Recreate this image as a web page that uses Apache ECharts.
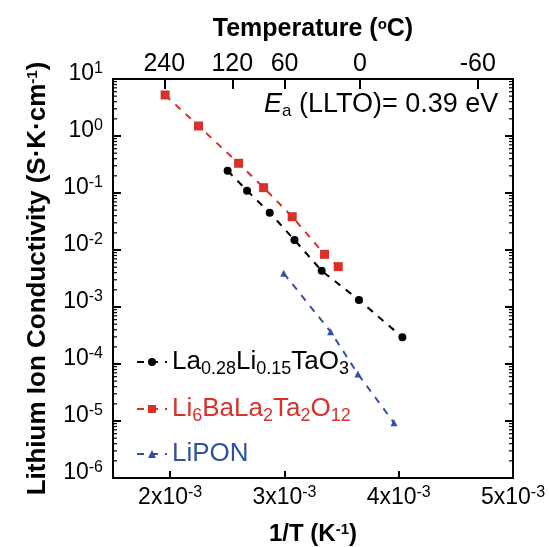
<!DOCTYPE html>
<html>
<head>
<meta charset="utf-8">
<script src="https://cdn.jsdelivr.net/npm/echarts@6/dist/echarts.min.js"></script>
<style>html,body{margin:0;padding:0;background:#fff}#c{width:549px;height:547px}</style>
</head>
<body>
<div id="c"></div>
<script>
// ---- data ----
var invT_LLTO  = [2.503e-3, 2.673e-3, 2.871e-3, 3.088e-3, 3.326e-3, 3.652e-3, 4.032e-3];
var sigma_LLTO = [0.246, 0.110, 0.0451, 0.0150, 0.00431, 0.00133, 0.000294];
var invT_LBLTO  = [1.956e-3, 2.248e-3, 2.599e-3, 2.818e-3, 3.068e-3, 3.351e-3, 3.471e-3];
var sigma_LBLTO = [5.24, 1.50, 0.332, 0.124, 0.0384, 0.0084, 0.0051];
var invT_LiPON  = [2.994e-3, 3.404e-3, 3.643e-3, 3.959e-3];
var sigma_LiPON = [0.0039, 3.69e-4, 6.68e-5, 9.3e-6];
var bottomTicks = [0.002, 0.003, 0.004, 0.005];
var topTempsC = [240, 120, 60, 0, -60];
var yDecades = [1e-6, 1e-5, 1e-4, 1e-3, 1e-2, 1e-1, 1, 10];

var FONT = '"Liberation Sans", Arial, Helvetica, sans-serif';
var RED = '#d8312b', BLUE = '#2f52a3', BLACK = '#000000';
var TICK_MAJOR = '#000000', TICK_MINOR = '#000000';
var X_MIN = 0.0015, X_MAX = 0.005, Y_MIN = 1e-6, Y_MAX = 10;

function pairs(xs, ys){ return xs.map(function(x,i){ return [x, ys[i]]; }); }
var topVals = topTempsC.map(function(t){ return 1/(t+273.15); });
var yMinor = [];
for (var k = 0; k < yDecades.length - 1; k++) {
  for (var m = 2; m <= 9; m++) yMinor.push(m * yDecades[k]);
}

var chart = echarts.init(document.getElementById('c'));
var supRich = {
  a: {fontSize: 23, fontFamily: FONT, color: '#000', lineHeight: 26},
  b: {fontSize: 16, fontFamily: FONT, color: '#000', lineHeight: 12, verticalAlign: 'top'}
};
var nameRich = {s: {fontSize: 15, fontWeight: 'bold', fontFamily: FONT, color: '#000', verticalAlign: 'top', lineHeight: 10}};

var option = {
  animation: false,
  backgroundColor: '#fff',
  grid: {left: 113, right: 36, top: 79, bottom: 69, outerBoundsMode: 'none'},
  xAxis: [
    {
      type: 'value', min: X_MIN, max: X_MAX, position: 'bottom',
      splitLine: {show: false},
      axisLine: {show: true, onZero: false, lineStyle: {color: '#000', width: 2}},
      axisTick: {show: true, inside: true, length: 7, customValues: bottomTicks.slice(0, 3), lineStyle: {color: TICK_MAJOR, width: 2}},
      axisLabel: {
        customValues: bottomTicks, margin: 7,
        formatter: function(v){ return '{a|' + Math.round(v*1000) + 'x10}{b|-3}'; },
        rich: supRich
      },
      name: '1/T (K{s|-1})', nameLocation: 'middle', nameGap: 44,
      nameTextStyle: {fontSize: 24, fontWeight: 'bold', fontFamily: FONT, color: '#000', rich: nameRich}
    },
    {
      type: 'value', min: X_MIN, max: X_MAX, position: 'top',
      splitLine: {show: false},
      axisLine: {show: true, onZero: false, lineStyle: {color: '#000', width: 2}},
      axisTick: {show: true, inside: true, length: 10, customValues: topVals, lineStyle: {color: TICK_MAJOR, width: 2}},
      axisLabel: {
        customValues: topVals, margin: 2,
        fontSize: 25, fontFamily: FONT, color: '#000',
        formatter: function(v){ return String(Math.round(1/v - 273.15)); }
      },
      name: 'Temperature ({s|o}C)', nameLocation: 'middle', nameGap: 37,
      nameTextStyle: {fontSize: 25, fontWeight: 'bold', fontFamily: FONT, color: '#000', rich: nameRich}
    }
  ],
  yAxis: [
    {
      type: 'log', logBase: 10, min: Y_MIN, max: Y_MAX, position: 'left',
      splitLine: {show: false},
      axisLine: {show: true, onZero: false, lineStyle: {color: '#000', width: 2}},
      axisTick: {show: true, inside: true, length: 8, customValues: yDecades, lineStyle: {color: TICK_MAJOR, width: 2}},
      axisLabel: {
        show: true, customValues: yDecades, margin: 10, padding: [0, 0, 10, 0],
        formatter: function(v){ return '{a|10}{b|' + Math.round(Math.log10(v)) + '}'; },
        rich: supRich
      },
      name: 'Lithium Ion Conductivity (S\u00B7K\u00B7cm{s|-1})',
      nameLocation: 'middle', nameGap: 62,
      nameTextStyle: {fontSize: 26, fontWeight: 'bold', fontFamily: FONT, color: '#000', rich: nameRich}
    },
    {
      type: 'log', logBase: 10, min: Y_MIN, max: Y_MAX, position: 'right',
      splitLine: {show: false},
      axisLine: {show: true, onZero: false, lineStyle: {color: '#000', width: 2}},
      axisTick: {show: true, inside: true, length: 8, customValues: yDecades, lineStyle: {color: TICK_MAJOR, width: 2}},
      axisLabel: {show: false}
    }
  ],
  legend: [
    {
      data: ['LLTO'], left: 131, top: 344, itemWidth: 30, itemHeight: 10, itemGap: 4,
      textStyle: {color: BLACK, fontSize: 26, fontFamily: FONT,
        rich: {n: {fontSize: 26, fontFamily: FONT, color: BLACK, lineHeight: 32}, s: {fontSize: 18, fontFamily: FONT, color: BLACK, verticalAlign: 'bottom', lineHeight: 10}}},
      formatter: function(){ return '{n|La}{s|0.28}{n|Li}{s|0.15}{n|TaO}{s|3}'; }
    },
    {
      data: ['LBLTO'], left: 131, top: 391, itemWidth: 30, itemHeight: 10,
      textStyle: {color: RED, fontSize: 26, fontFamily: FONT,
        rich: {n: {fontSize: 26, fontFamily: FONT, color: RED, lineHeight: 32}, s: {fontSize: 18, fontFamily: FONT, color: RED, verticalAlign: 'bottom', lineHeight: 10}}},
      formatter: function(){ return '{n|Li}{s|6}{n|BaLa}{s|2}{n|Ta}{s|2}{n|O}{s|12}'; }
    },
    {
      data: ['LiPON'], left: 131, top: 436, itemWidth: 30, itemHeight: 10,
      textStyle: {color: BLUE, fontSize: 26, fontFamily: FONT}
    }
  ],
  series: [
    {
      name: 'LLTO', type: 'line', xAxisIndex: 0, yAxisIndex: 0,
      data: pairs(invT_LLTO, sigma_LLTO),
      symbol: 'circle', symbolSize: 8,
      itemStyle: {color: BLACK},
      lineStyle: {color: BLACK, width: 2, type: [7, 7]}
    },
    {
      name: 'LBLTO', type: 'line', xAxisIndex: 0, yAxisIndex: 0,
      data: pairs(invT_LBLTO, sigma_LBLTO),
      symbol: 'rect', symbolSize: 9,
      itemStyle: {color: RED},
      lineStyle: {color: RED, width: 2, type: [7, 7]}
    },
    {
      name: 'LiPON', type: 'line', xAxisIndex: 0, yAxisIndex: 0,
      data: pairs(invT_LiPON, sigma_LiPON),
      symbol: 'triangle', symbolSize: 7,
      itemStyle: {color: BLUE},
      lineStyle: {color: BLUE, width: 2, type: [7, 7]}
    }
  ]
};
chart.setOption(option);

// ---- minor log ticks and annotation, placed through the chart's own scales ----
var g = [];
yMinor.forEach(function(v){
  var p = chart.convertToPixel({xAxisIndex: 0, yAxisIndex: 0}, [X_MIN, v]);
  var q = chart.convertToPixel({xAxisIndex: 0, yAxisIndex: 0}, [X_MAX, v]);
  g.push({type: 'line', shape: {x1: p[0], y1: p[1], x2: p[0] + 4, y2: p[1]}, style: {stroke: TICK_MINOR, lineWidth: 1.2}});
  g.push({type: 'line', shape: {x1: q[0], y1: q[1], x2: q[0] - 4, y2: q[1]}, style: {stroke: TICK_MINOR, lineWidth: 1.2}});
});
g.push({
  type: 'text', left: 264, top: 91,
  style: {
    text: '{e|E}{s|a}{n| (LLTO)= 0.39 eV}',
    rich: {
      e: {fontSize: 27, fontStyle: 'italic', fontFamily: FONT, fill: '#000', lineHeight: 30},
      s: {fontSize: 17, fontFamily: FONT, fill: '#000', verticalAlign: 'bottom', lineHeight: 8},
      n: {fontSize: 27, fontFamily: FONT, fill: '#000', lineHeight: 30}
    }
  }
});
chart.setOption({graphic: g});
</script>
</body>
</html>
